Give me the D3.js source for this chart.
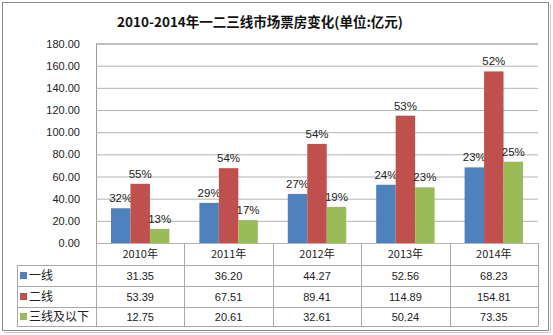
<!DOCTYPE html>
<html>
<head>
<meta charset="utf-8">
<script src="https://cdn.jsdelivr.net/npm/d3@7"></script>
<style>
  html, body { margin: 0; padding: 0; background: #fff; }
  svg { display: block; font-family: "Liberation Sans", "Noto Sans CJK SC", sans-serif; }
</style>
</head>
<body>
<svg id="chart" width="553" height="335"></svg>
<script>
// Box office by city tier, 2010-2014 (unit: 亿元)
const categories = ["2010年", "2011年", "2012年", "2013年", "2014年"];
const seriesNames = ["一线", "二线", "三线及以下"];
const tier1 = [31.35, 36.20, 44.27, 52.56, 68.23];
const tier2 = [53.39, 67.51, 89.41, 114.89, 154.81];
const tier3 = [12.75, 20.61, 32.61, 50.24, 73.35];
const share1 = ["32%", "29%", "27%", "24%", "23%"];
const share2 = ["55%", "54%", "54%", "53%", "52%"];
const share3 = ["13%", "17%", "19%", "23%", "25%"];
const yTicks = [0, 20, 40, 60, 80, 100, 120, 140, 160, 180];
const colors = ["#4F81BD", "#C0504D", "#9BBB59"];

const series = [
  { name: seriesNames[0], values: tier1, labels: share1, color: colors[0] },
  { name: seriesNames[1], values: tier2, labels: share2, color: colors[1] },
  { name: seriesNames[2], values: tier3, labels: share3, color: colors[2] }
];

const svg = d3.select("#chart");
const plot = { left: 96, right: 538, top: 43.5, bottom: 243 };
const table = { left: 17, rows: [243, 265, 286, 307, 326] };
const cjk = "'Noto Sans CJK SC', 'Liberation Sans', sans-serif";

// outer frame
svg.append("rect").attr("x", 2.5).attr("y", 2.5).attr("width", 546).attr("height", 328)
  .attr("fill", "none").attr("stroke", "#8c8c8c").attr("stroke-width", 1);
svg.append("line").attr("x1", 550.5).attr("x2", 550.5).attr("y1", 4).attr("y2", 332)
  .attr("stroke", "#c8c8c8");
svg.append("line").attr("x1", 4).attr("x2", 550.5).attr("y1", 332.5).attr("y2", 332.5)
  .attr("stroke", "#c8c8c8");

// title
svg.append("text").attr("x", 260).attr("y", 27).attr("text-anchor", "middle")
  .style("font-family", cjk).style("font-weight", "bold").style("font-size", "13.5px")
  .attr("fill", "#111").text("2010-2014年一二三线市场票房变化(单位:亿元)");

const x = d3.scaleBand().domain(categories).range([plot.left, plot.right]);
const xInner = d3.scaleBand().domain(d3.range(series.length))
  .range([0, x.bandwidth()]).paddingInner(0).paddingOuter(0.77);
const y = d3.scaleLinear().domain([0, 180]).range([plot.bottom, plot.top]);

// horizontal gridlines and y labels
const yAxis = d3.axisLeft(y).tickValues(yTicks).tickFormat(d3.format(".2f"))
  .tickSize(-(plot.right - plot.left)).tickPadding(16);
const gy = svg.append("g").attr("transform", `translate(${plot.left},0)`).call(yAxis);
gy.select(".domain").attr("stroke", "#9a9a9a");
gy.selectAll(".tick line").attr("stroke", "#b4b4b4");
gy.selectAll(".tick text").attr("fill", "#222").style("font-size", "11px")
  .style("font-family", "'Liberation Sans', sans-serif");

// bars
series.forEach((s, i) => {
  const g = svg.append("g");
  g.selectAll("rect").data(s.values).join("rect")
    .attr("x", (d, j) => x(categories[j]) + xInner(i))
    .attr("y", d => y(d))
    .attr("width", xInner.bandwidth())
    .attr("height", d => y(0) - y(d))
    .attr("fill", s.color);
  g.selectAll("text").data(s.values).join("text")
    .attr("x", (d, j) => x(categories[j]) + xInner(i) + xInner.bandwidth() / 2)
    .attr("y", d => y(d) - 6)
    .attr("text-anchor", "middle")
    .style("font-size", "11.5px").attr("fill", "#222")
    .text((d, j) => s.labels[j]);
});

// data table below the plot
const lineColor = "#a8a8a8";
const tg = svg.append("g");
// horizontal rules
table.rows.slice(1).forEach(r => {
  tg.append("line").attr("x1", table.left).attr("x2", plot.right)
    .attr("y1", r + 0.5).attr("y2", r + 0.5).attr("stroke", lineColor);
});
// vertical rules
const vx = categories.map(c => x(c)).concat([plot.right]);
vx.forEach(v => {
  tg.append("line").attr("x1", Math.round(v) + 0.5).attr("x2", Math.round(v) + 0.5)
    .attr("y1", plot.bottom).attr("y2", table.rows[4] + 0.5).attr("stroke", lineColor);
});
tg.append("line").attr("x1", table.left + 0.5).attr("x2", table.left + 0.5)
  .attr("y1", table.rows[1]).attr("y2", table.rows[4] + 0.5).attr("stroke", lineColor);

// category header
categories.forEach(c => {
  tg.append("text").attr("x", x(c) + x.bandwidth() / 2).attr("y", 258)
    .attr("text-anchor", "middle").style("font-family", cjk).style("font-size", "11px")
    .attr("fill", "#222").text(c);
});

// series rows
series.forEach((s, i) => {
  const top = table.rows[i + 1], bot = table.rows[i + 2];
  const mid = (top + bot) / 2;
  tg.append("rect").attr("x", 20).attr("y", mid - 3.5).attr("width", 7).attr("height", 7)
    .attr("fill", s.color);
  tg.append("text").attr("x", 29).attr("y", mid + 4.5)
    .style("font-family", cjk).style("font-size", "12px").attr("fill", "#222").text(s.name);
  s.values.forEach((v, j) => {
    tg.append("text").attr("x", x(categories[j]) + x.bandwidth() / 2).attr("y", mid + 4)
      .attr("text-anchor", "middle").style("font-size", "11px").attr("fill", "#222")
      .text(d3.format(".2f")(v));
  });
});
</script>
</body>
</html>
